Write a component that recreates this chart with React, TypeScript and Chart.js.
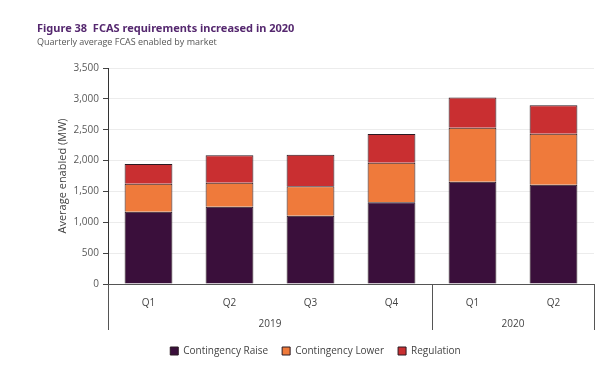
import React, { useEffect, useRef } from "react";
import { Chart, registerables } from "chart.js";

Chart.register(...registerables);

const categories = ["Q1", "Q2", "Q3", "Q4", "Q1", "Q2"];
const years = ["2019", "2020"];
const yearSpans = [4, 2];
const contingencyRaise = [1170, 1250, 1105, 1325, 1655, 1610];
const contingencyLower = [455, 390, 480, 640, 875, 825];
const regulation = [320, 445, 510, 465, 490, 460];
const yMax = 3500;
const yStep = 500;

const FONT = "'Open Sans', 'Noto Sans', sans-serif";

const multiLevelAxis = {
  id: "multiLevelAxis",
  afterDraw(chart: any) {
    const x = chart.scales.x;
    const ctx = chart.ctx;
    const base = chart.chartArea.bottom;
    const n = categories.length;
    const edge = (i: number) => {
      if (i <= 0) return x.left;
      if (i >= n) return x.right;
      return (x.getPixelForValue(i - 1) + x.getPixelForValue(i)) / 2;
    };
    ctx.save();
    ctx.strokeStyle = "#555";
    ctx.lineWidth = 1;
    ctx.fillStyle = "#444";
    ctx.font = "10px " + FONT;
    ctx.textAlign = "center";
    ctx.textBaseline = "middle";
    let start = 0;
    const bounds = [0];
    years.forEach((y, k) => {
      const end = start + yearSpans[k];
      bounds.push(end);
      const cx = (edge(start) + edge(end)) / 2;
      ctx.fillText(y, cx, base + 40);
      start = end;
    });
    bounds.forEach((b) => {
      const px = Math.round(edge(b)) + 0.5;
      ctx.beginPath();
      ctx.moveTo(px, base);
      ctx.lineTo(px, base + 46);
      ctx.stroke();
    });
    ctx.restore();
  },
};

export default function App() {
  const ref = useRef<HTMLCanvasElement>(null);
  useEffect(() => {
    if (!ref.current) return;
    const border = "#2a1a22";
    const chart = new Chart(ref.current, {
      type: "bar",
      data: {
        labels: categories,
        datasets: [
          { label: "Contingency Raise", data: contingencyRaise, backgroundColor: "#3a0f3b", borderColor: border, borderWidth: 1 },
          { label: "Contingency Lower", data: contingencyLower, backgroundColor: "#ef7a3b", borderColor: border, borderWidth: 1 },
          { label: "Regulation", data: regulation, backgroundColor: "#c92f31", borderColor: border, borderWidth: 1 },
        ],
      },
      plugins: [multiLevelAxis],
      options: {
        animation: false,
        responsive: true,
        maintainAspectRatio: false,
        layout: { padding: { left: 37, right: 6, top: 20, bottom: 14 } },
        datasets: { bar: { barPercentage: 0.59, categoryPercentage: 1 } },
        scales: {
          x: {
            stacked: true,
            grid: { display: false },
            border: { display: true, color: "#555" },
            ticks: { color: "#444", font: { size: 10, family: FONT }, padding: 5 },
            afterFit: (s: any) => {
              s.height += 18;
            },
          },
          y: {
            stacked: true,
            min: 0,
            max: yMax,
            ticks: {
              stepSize: yStep,
              color: "#595959",
              font: { size: 10, family: FONT },
              padding: 4,
              callback: (v: any) => Number(v).toLocaleString("en-US"),
            },
            grid: { color: "#ececec", tickColor: "#444", tickLength: 5 },
            border: { display: true, color: "#333" },
            title: {
              display: true,
              text: "Average enabled (MW)",
              color: "#444",
              font: { size: 11, family: FONT },
              padding: { top: 19, bottom: 0 },
            },
            afterFit: (s: any) => {
              s.width = 71;
            },
          },
        },
        plugins: {
          title: {
            display: true,
            text: "Figure 38  FCAS requirements increased in 2020",
            align: "start",
            color: "#55286f",
            font: { size: 11, weight: "bold", family: "'Noto Sans', sans-serif", lineHeight: 1.2 },
            padding: { top: 2, bottom: 2 },
          },
          subtitle: {
            display: true,
            text: "Quarterly average FCAS enabled by market",
            align: "start",
            color: "#555",
            font: { size: 9, family: FONT, lineHeight: 1.2 },
            padding: { top: 0, bottom: 20 },
          },
          legend: {
            position: "bottom",
            labels: {
              boxWidth: 8,
              boxHeight: 8,
              color: "#444",
              font: { size: 10, family: FONT },
              padding: 14,
            },
          },
          tooltip: { enabled: false },
        },
      },
    });
    return () => chart.destroy();
  }, []);
  return (
    <div style={{ position: "fixed", left: 0, top: 0, width: 600, height: 380, background: "#fff" }}>
      <canvas ref={ref} />
    </div>
  );
}
